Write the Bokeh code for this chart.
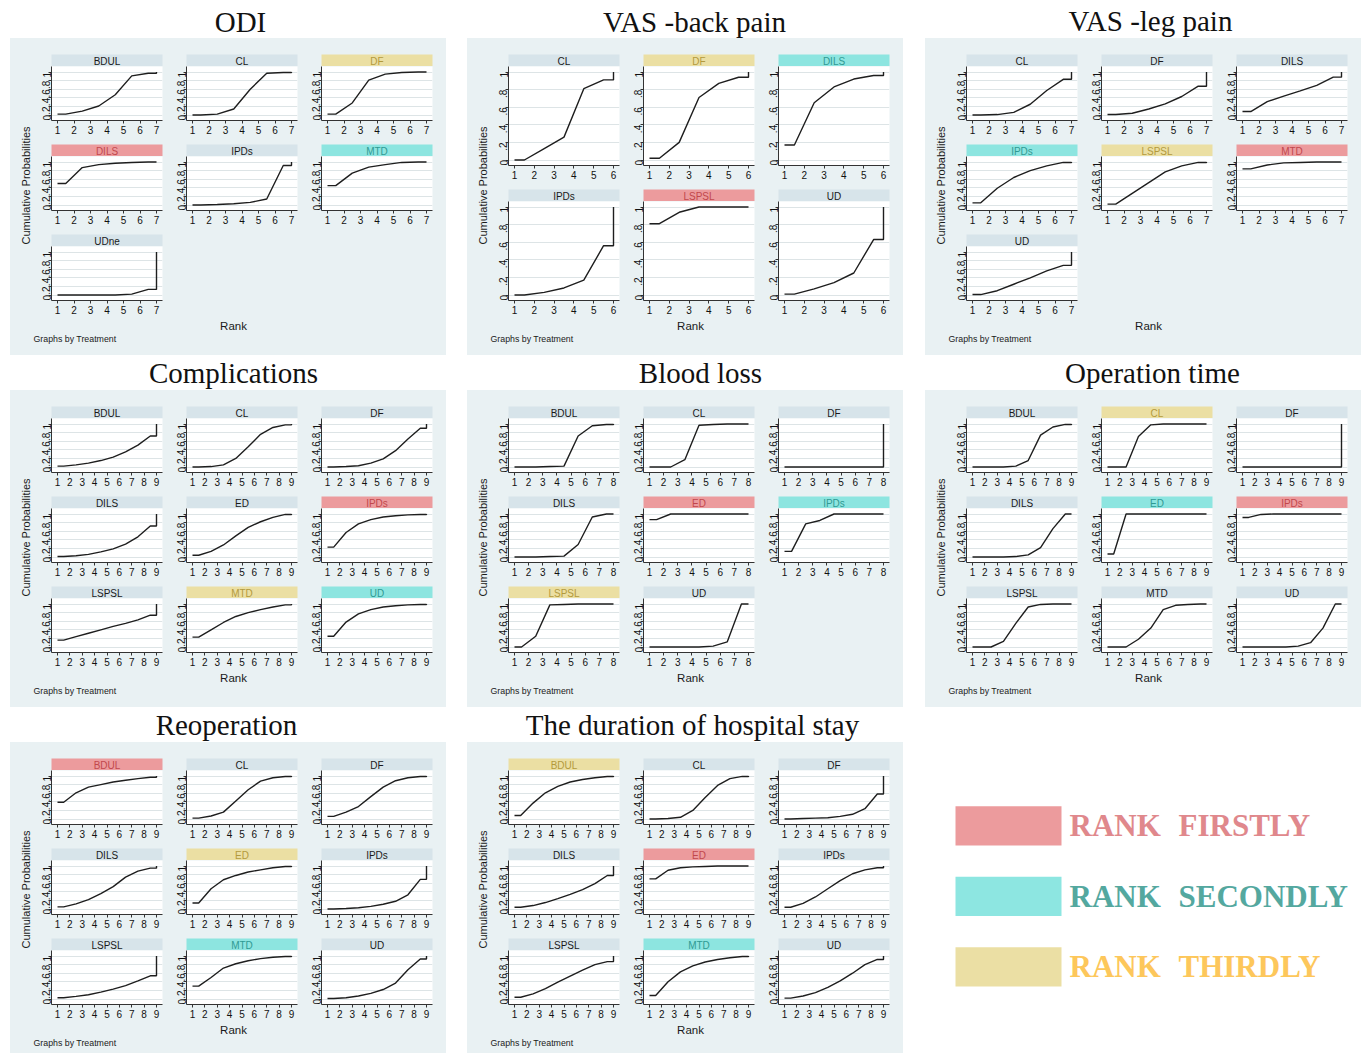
import math
from bokeh.plotting import figure
from bokeh.layouts import row, column
from bokeh.models import Spacer, Range1d, FixedTicker
from bokeh.core.properties import value
from bokeh.embed import file_html
from bokeh.resources import INLINE

# ---------------------------------------------------------------- data
YTICKS = [0, 0.2, 0.4, 0.6, 0.8, 1]
YTICK_LABELS = ["0", ".2", ".4", ".6", ".8", "1"]

ODI_TITLE = "ODI"
ODI_TREATMENTS = ["BDUL", "CL", "DF", "DILS", "IPDs", "MTD", "UDne"]
ODI_CUMPROB = [
    [0.02, 0.09, 0.21, 0.47, 0.91, 0.97, 1.0],
    [0.00, 0.02, 0.14, 0.60, 0.97, 0.99, 1.0],
    [0.02, 0.28, 0.81, 0.95, 0.99, 1.00, 1.0],
    [0.50, 0.87, 0.94, 0.97, 0.99, 1.00, 1.0],
    [0.00, 0.01, 0.03, 0.06, 0.14, 0.92, 1.0],
    [0.45, 0.74, 0.88, 0.94, 0.99, 1.00, 1.0],
    [0.00, 0.00, 0.00, 0.00, 0.02, 0.13, 1.0],
]
ODI_TOP3 = ["DILS", "MTD", "DF"]

BACK_TITLE = "VAS -back pain"
BACK_TREATMENTS = ["CL", "DF", "DILS", "IPDs", "LSPSL", "UD"]
BACK_CUMPROB = [
    [0.00, 0.13, 0.26, 0.81, 0.91, 1.0],
    [0.02, 0.20, 0.71, 0.87, 0.94, 1.0],
    [0.17, 0.65, 0.83, 0.92, 0.96, 1.0],
    [0.00, 0.03, 0.08, 0.17, 0.56, 1.0],
    [0.81, 0.94, 1.00, 1.00, 1.00, 1.0],
    [0.01, 0.07, 0.14, 0.25, 0.63, 1.0],
]
BACK_TOP3 = ["LSPSL", "DILS", "DF"]

LEG_TITLE = "VAS -leg pain"
LEG_TREATMENTS = ["CL", "DF", "DILS", "IPDs", "LSPSL", "MTD", "UD"]
LEG_CUMPROB = [
    [0.00, 0.01, 0.06, 0.25, 0.57, 0.83, 1.0],
    [0.01, 0.04, 0.14, 0.26, 0.43, 0.67, 1.0],
    [0.08, 0.31, 0.44, 0.56, 0.69, 0.88, 1.0],
    [0.05, 0.39, 0.64, 0.80, 0.91, 0.99, 1.0],
    [0.02, 0.27, 0.52, 0.77, 0.91, 0.99, 1.0],
    [0.84, 0.93, 0.98, 0.99, 1.00, 1.00, 1.0],
    [0.01, 0.10, 0.25, 0.40, 0.56, 0.69, 1.0],
]
LEG_TOP3 = ["MTD", "IPDs", "LSPSL"]

COMP_TITLE = "Complications"
COMP_TREATMENTS = ["BDUL", "CL", "DF", "DILS", "ED", "IPDs", "LSPSL", "MTD", "UD"]
COMP_CUMPROB = [
    [0.02, 0.05, 0.09, 0.15, 0.23, 0.35, 0.51, 0.72, 1.0],
    [0.00, 0.01, 0.05, 0.20, 0.47, 0.76, 0.92, 0.98, 1.0],
    [0.00, 0.01, 0.03, 0.09, 0.19, 0.38, 0.65, 0.90, 1.0],
    [0.01, 0.03, 0.06, 0.12, 0.19, 0.30, 0.47, 0.72, 1.0],
    [0.04, 0.13, 0.28, 0.49, 0.69, 0.82, 0.92, 0.99, 1.0],
    [0.23, 0.57, 0.77, 0.87, 0.93, 0.96, 0.98, 0.99, 1.0],
    [0.16, 0.24, 0.32, 0.40, 0.48, 0.55, 0.63, 0.74, 1.0],
    [0.23, 0.40, 0.57, 0.71, 0.80, 0.87, 0.93, 0.98, 1.0],
    [0.25, 0.58, 0.77, 0.87, 0.93, 0.96, 0.98, 0.99, 1.0],
]
COMP_TOP3 = ["IPDs", "UD", "MTD"]

BLOOD_TITLE = "Blood loss"
BLOOD_TREATMENTS = ["BDUL", "CL", "DF", "DILS", "ED", "IPDs", "LSPSL", "UD"]
BLOOD_CUMPROB = [
    [0.00, 0.00, 0.01, 0.02, 0.72, 0.96, 0.99, 1.0],
    [0.00, 0.00, 0.17, 0.97, 0.99, 1.00, 1.00, 1.0],
    [0.00, 0.00, 0.00, 0.00, 0.00, 0.00, 0.00, 1.0],
    [0.00, 0.00, 0.01, 0.02, 0.29, 0.93, 1.00, 1.0],
    [0.87, 1.00, 1.00, 1.00, 1.00, 1.00, 1.00, 1.0],
    [0.13, 0.77, 0.85, 1.00, 1.00, 1.00, 1.00, 1.0],
    [0.00, 0.25, 0.98, 0.99, 1.00, 1.00, 1.00, 1.0],
    [0.00, 0.00, 0.00, 0.00, 0.02, 0.12, 1.00, 1.0],
]
BLOOD_TOP3 = ["ED", "IPDs", "LSPSL"]

OPER_TITLE = "Operation time"
OPER_TREATMENTS = ["BDUL", "CL", "DF", "DILS", "ED", "IPDs", "LSPSL", "MTD", "UD"]
OPER_CUMPROB = [
    [0.00, 0.00, 0.00, 0.02, 0.15, 0.74, 0.93, 0.99, 1.0],
    [0.00, 0.00, 0.71, 0.98, 1.00, 1.00, 1.00, 1.00, 1.0],
    [0.00, 0.00, 0.00, 0.00, 0.00, 0.00, 0.00, 0.00, 1.0],
    [0.00, 0.00, 0.00, 0.01, 0.05, 0.22, 0.66, 1.00, 1.0],
    [0.07, 1.00, 1.00, 1.00, 1.00, 1.00, 1.00, 1.00, 1.0],
    [0.92, 0.99, 1.00, 1.00, 1.00, 1.00, 1.00, 1.00, 1.0],
    [0.00, 0.00, 0.13, 0.55, 0.93, 0.99, 1.00, 1.00, 1.0],
    [0.00, 0.00, 0.18, 0.44, 0.87, 0.97, 0.99, 1.00, 1.0],
    [0.00, 0.00, 0.00, 0.00, 0.02, 0.10, 0.44, 1.00, 1.0],
]
OPER_TOP3 = ["IPDs", "ED", "CL"]

REOP_TITLE = "Reoperation"
REOP_TREATMENTS = ["BDUL", "CL", "DF", "DILS", "ED", "IPDs", "LSPSL", "MTD", "UD"]
REOP_CUMPROB = [
    [0.39, 0.61, 0.74, 0.80, 0.86, 0.90, 0.94, 0.97, 1.0],
    [0.02, 0.07, 0.16, 0.42, 0.68, 0.88, 0.96, 0.99, 1.0],
    [0.06, 0.16, 0.29, 0.52, 0.74, 0.89, 0.96, 0.99, 1.0],
    [0.05, 0.12, 0.22, 0.36, 0.52, 0.74, 0.88, 0.95, 1.0],
    [0.14, 0.47, 0.68, 0.78, 0.86, 0.91, 0.96, 0.99, 1.0],
    [0.00, 0.01, 0.03, 0.06, 0.11, 0.18, 0.33, 0.69, 1.0],
    [0.03, 0.06, 0.10, 0.16, 0.23, 0.31, 0.42, 0.54, 1.0],
    [0.30, 0.50, 0.72, 0.82, 0.89, 0.94, 0.97, 0.99, 1.0],
    [0.01, 0.03, 0.07, 0.13, 0.22, 0.37, 0.68, 0.93, 1.0],
]
REOP_TOP3 = ["BDUL", "MTD", "ED"]

STAY_TITLE = "The duration of hospital stay"
STAY_TREATMENTS = ["BDUL", "CL", "DF", "DILS", "ED", "IPDs", "LSPSL", "MTD", "UD"]
STAY_CUMPROB = [
    [0.08, 0.37, 0.61, 0.76, 0.86, 0.92, 0.96, 0.99, 1.0],
    [0.00, 0.01, 0.04, 0.20, 0.50, 0.78, 0.94, 0.99, 1.0],
    [0.00, 0.01, 0.02, 0.03, 0.06, 0.11, 0.24, 0.58, 1.0],
    [0.04, 0.08, 0.15, 0.24, 0.34, 0.45, 0.59, 0.78, 1.0],
    [0.70, 0.90, 0.96, 0.98, 0.99, 1.00, 1.00, 1.00, 1.0],
    [0.04, 0.13, 0.28, 0.47, 0.66, 0.82, 0.91, 0.96, 1.0],
    [0.04, 0.12, 0.24, 0.39, 0.53, 0.67, 0.80, 0.87, 1.0],
    [0.08, 0.40, 0.63, 0.77, 0.86, 0.92, 0.96, 0.99, 1.0],
    [0.02, 0.07, 0.15, 0.27, 0.42, 0.60, 0.80, 0.92, 1.0],
]
STAY_TOP3 = ["ED", "MTD", "BDUL"]

LEGEND_WORD = "RANK"
LEGEND_ORDINALS = ["FIRSTLY", "SECONDLY", "THIRDLY"]

# ---------------------------------------------------------------- style
PANEL_BG = "#e9f1f3"
STRIP_BG = "#d7e4ea"
HL_FILL = ["#ec9b9d", "#8de5e0", "#ebdfa3"]
HL_TEXT = ["#c2474c", "#2f9a93", "#b39a3c"]
LEGEND_BOX = ["#ec9b9d", "#8de6e1", "#ebdfa4"]
LEGEND_TEXT = ["#e0888c", "#54a89f", "#fdc75b"]
LINE_COLOR = "#1e1e1e"
AXIS_COLOR = "#333333"
GRID_COLOR = "#dde4e6"
SANS = "Liberation Sans"
SERIF = "Liberation Serif"

PANEL_W = 436
COL_W = 135
LEFT_B = 21
RIGHT_B = 3
FRAME_W = COL_W - LEFT_B - RIGHT_B
STRIP_H = 12
TOP_PAD = 16
GRID_SPAN = 270
BOTTOM_MID = 24
BOTTOM_LAST = 18
YLAB_W = 22
FIRST_LEFT_B = LEFT_B - (YLAB_W - 20)
XPAD = 6.0
YPAD = 5.5


def base_fig(w, h, **kw):
    return figure(width=w, height=h, toolbar_location=None, output_backend="svg",
                  outline_line_color=None, **kw)


def blank_fig(w, h, bg, xr, yr):
    p = base_fig(w, h, x_range=Range1d(*xr), y_range=Range1d(*yr),
                 x_axis_location=None, y_axis_location=None,
                 min_border=0, min_border_left=0, min_border_right=0,
                 min_border_top=0, min_border_bottom=0,
                 background_fill_color=bg, border_fill_color=bg)
    p.xgrid.visible = False
    p.ygrid.visible = False
    return p


def strip_fig(name, fill, tcolor, left_b):
    p = base_fig(left_b + FRAME_W + RIGHT_B, STRIP_H,
                 x_range=Range1d(0, 1), y_range=Range1d(0, 1),
                 x_axis_location=None, y_axis_location=None,
                 min_border_left=left_b, min_border_right=RIGHT_B,
                 min_border_top=0, min_border_bottom=0,
                 background_fill_color=fill, border_fill_color=PANEL_BG)
    p.xgrid.visible = False
    p.ygrid.visible = False
    p.text(x=[0.5], y=[0.45], text=[name], text_align="center",
           text_baseline="middle", text_font=value(SANS),
           text_font_size="10px", text_color=tcolor)
    return p


def facet_fig(ranks, cum, frame_h, bottom, left_b):
    n = len(ranks)
    sx = (FRAME_W - 2 * XPAD) / (n - 1)
    sy = frame_h - 2 * YPAD
    p = base_fig(left_b + FRAME_W + RIGHT_B, frame_h + bottom,
                 x_range=Range1d(ranks[0] - XPAD / sx, ranks[-1] + XPAD / sx),
                 y_range=Range1d(-YPAD / sy, 1 + YPAD / sy),
                 min_border_left=left_b, min_border_right=RIGHT_B,
                 min_border_top=0, min_border_bottom=bottom,
                 background_fill_color="white", border_fill_color=PANEL_BG)
    xs = [ranks[0]] + [r + 0.5 for r in ranks[:-1]] + [ranks[-1], ranks[-1]]
    ys = [cum[0]] + list(cum[:-1]) + [cum[-2], cum[-1]]
    p.line(xs, ys, line_color=LINE_COLOR, line_width=1.4)
    p.xaxis.ticker = FixedTicker(ticks=list(ranks))
    yt = FixedTicker(ticks=YTICKS)
    p.yaxis.ticker = yt
    p.ygrid.ticker = yt
    p.yaxis.major_label_overrides = dict(zip(YTICKS, YTICK_LABELS))
    p.yaxis.major_label_orientation = math.pi / 2
    p.xgrid.visible = False
    p.ygrid.grid_line_color = GRID_COLOR
    p.ygrid.grid_line_width = 1
    for ax in (p.xaxis[0], p.yaxis[0]):
        ax.axis_line_color = AXIS_COLOR
        ax.axis_line_width = 1
        ax.major_tick_line_color = AXIS_COLOR
        ax.major_tick_out = 3
        ax.major_tick_in = 0
        ax.minor_tick_line_color = None
        ax.major_label_text_font = SANS
        ax.major_label_text_font_size = "10px"
        ax.major_label_text_color = "#111111"
        ax.major_label_standoff = 2
    return p


def make_panel(title, title_dx, title_dy, title_h, treatments, cumprob, top3, panel_h):
    n = len(cumprob[0])
    ranks = list(range(1, n + 1))
    nrows = int(math.ceil(len(treatments) / 3.0))
    pitch = GRID_SPAN / nrows
    frame_h = int(round(pitch - STRIP_H - BOTTOM_MID))
    rows = []
    for ri in range(nrows):
        strips, facets = [], []
        bottom = BOTTOM_LAST if ri == nrows - 1 else BOTTOM_MID
        for ci in range(3):
            idx = ri * 3 + ci
            left_b = FIRST_LEFT_B if ci == 0 else LEFT_B
            w = left_b + FRAME_W + RIGHT_B
            if idx < len(treatments):
                name = treatments[idx]
                if name in top3:
                    k = top3.index(name)
                    fill, tcol = HL_FILL[k], HL_TEXT[k]
                else:
                    fill, tcol = STRIP_BG, "#1a1a1a"
                strips.append(strip_fig(name, fill, tcol, left_b))
                facets.append(facet_fig(ranks, cumprob[idx], frame_h, bottom, left_b))
            else:
                strips.append(Spacer(width=w, height=STRIP_H))
                facets.append(Spacer(width=w, height=frame_h + bottom))
        rows.append(row(strips))
        rows.append(row(facets))
    grid_h = (nrows - 1) * (STRIP_H + frame_h + BOTTOM_MID) + STRIP_H + frame_h + BOTTOM_LAST
    grid_w = 3 * (FRAME_W + RIGHT_B) + 2 * LEFT_B + FIRST_LEFT_B
    grid = column(rows)

    ylab = blank_fig(YLAB_W, grid_h, PANEL_BG, (0, YLAB_W), (0, grid_h))
    ylab.text(x=[15], y=[grid_h - 131], text=["Cumulative Probabilities"],
              angle=math.pi / 2, text_align="center", text_baseline="middle",
              text_font=value(SANS), text_font_size="11px", text_color="#1a1a1a")

    body = row(ylab, grid, Spacer(width=PANEL_W - YLAB_W - grid_w, height=grid_h))

    bh = panel_h - TOP_PAD - grid_h
    bot = blank_fig(PANEL_W, bh, PANEL_BG, (0, PANEL_W), (0, bh))
    bot.text(x=[223], y=[bh - 7.5], text=["Rank"], text_align="center",
             text_baseline="middle", text_font=value(SANS), text_font_size="11.5px",
             text_color="#1a1a1a")
    bot.text(x=[23], y=[bh - 20], text=["Graphs by Treatment"], text_align="left",
             text_baseline="middle", text_font=value(SANS), text_font_size="8.8px",
             text_color="#1a1a1a")

    panel = column(Spacer(width=PANEL_W, height=TOP_PAD), body, bot,
                   width=PANEL_W, height=panel_h,
                   styles={"background-color": PANEL_BG})

    tf = blank_fig(PANEL_W, title_h, "white", (0, PANEL_W), (0, title_h))
    tf.text(x=[title_dx], y=[title_h - title_dy], text=[title], text_align="center",
            text_baseline="middle", text_font=value(SERIF), text_font_size="29px",
            text_color="#111111")
    return column(tf, panel)


def make_legend(w, h):
    p = blank_fig(w, h, "white", (0, w), (0, h))
    for i, (word, bc, tc) in enumerate(zip(LEGEND_ORDINALS, LEGEND_BOX, LEGEND_TEXT)):
        cy = h - (118.3 + 70.5 * i)
        p.rect(x=[83], y=[cy], width=106, height=39.3, fill_color=bc, line_color=None)
        p.text(x=[144, 253], y=[cy, cy], text=[LEGEND_WORD, word], text_align="left",
               text_baseline="middle", text_font=value(SERIF), text_font_style="bold",
               text_font_size="31px", text_color=tc)
    return p


# row 1
b1 = make_panel(ODI_TITLE, 230, 21, 38, ODI_TREATMENTS, ODI_CUMPROB, ODI_TOP3, 317)
b2 = make_panel(BACK_TITLE, 227, 21, 38, BACK_TREATMENTS, BACK_CUMPROB, BACK_TOP3, 317)
b3 = make_panel(LEG_TITLE, 225, 20, 38, LEG_TREATMENTS, LEG_CUMPROB, LEG_TOP3, 317)
# row 2
b4 = make_panel(COMP_TITLE, 223, 17, 35, COMP_TREATMENTS, COMP_CUMPROB, COMP_TOP3, 317)
b5 = make_panel(BLOOD_TITLE, 233, 17, 35, BLOOD_TREATMENTS, BLOOD_CUMPROB, BLOOD_TOP3, 317)
b6 = make_panel(OPER_TITLE, 227, 17.5, 35, OPER_TREATMENTS, OPER_CUMPROB, OPER_TOP3, 317)
# row 3
b7 = make_panel(REOP_TITLE, 216, 17, 35, REOP_TREATMENTS, REOP_CUMPROB, REOP_TOP3, 311)
b8 = make_panel(STAY_TITLE, 225, 17, 35, STAY_TREATMENTS, STAY_CUMPROB, STAY_TOP3, 311)
leg = make_legend(PANEL_W, 346)

r1 = row(Spacer(width=10, height=355), b1, Spacer(width=21, height=355), b2,
         Spacer(width=22, height=355), b3)
r2 = row(Spacer(width=10, height=352), b4, Spacer(width=21, height=352), b5,
         Spacer(width=22, height=352), b6)
r3 = row(Spacer(width=10, height=346), b7, Spacer(width=21, height=346), b8,
         Spacer(width=22, height=346), leg)

layout = column(r1, r2, r3)

with open("out.html", "w") as f:
    f.write(file_html(layout, INLINE))
